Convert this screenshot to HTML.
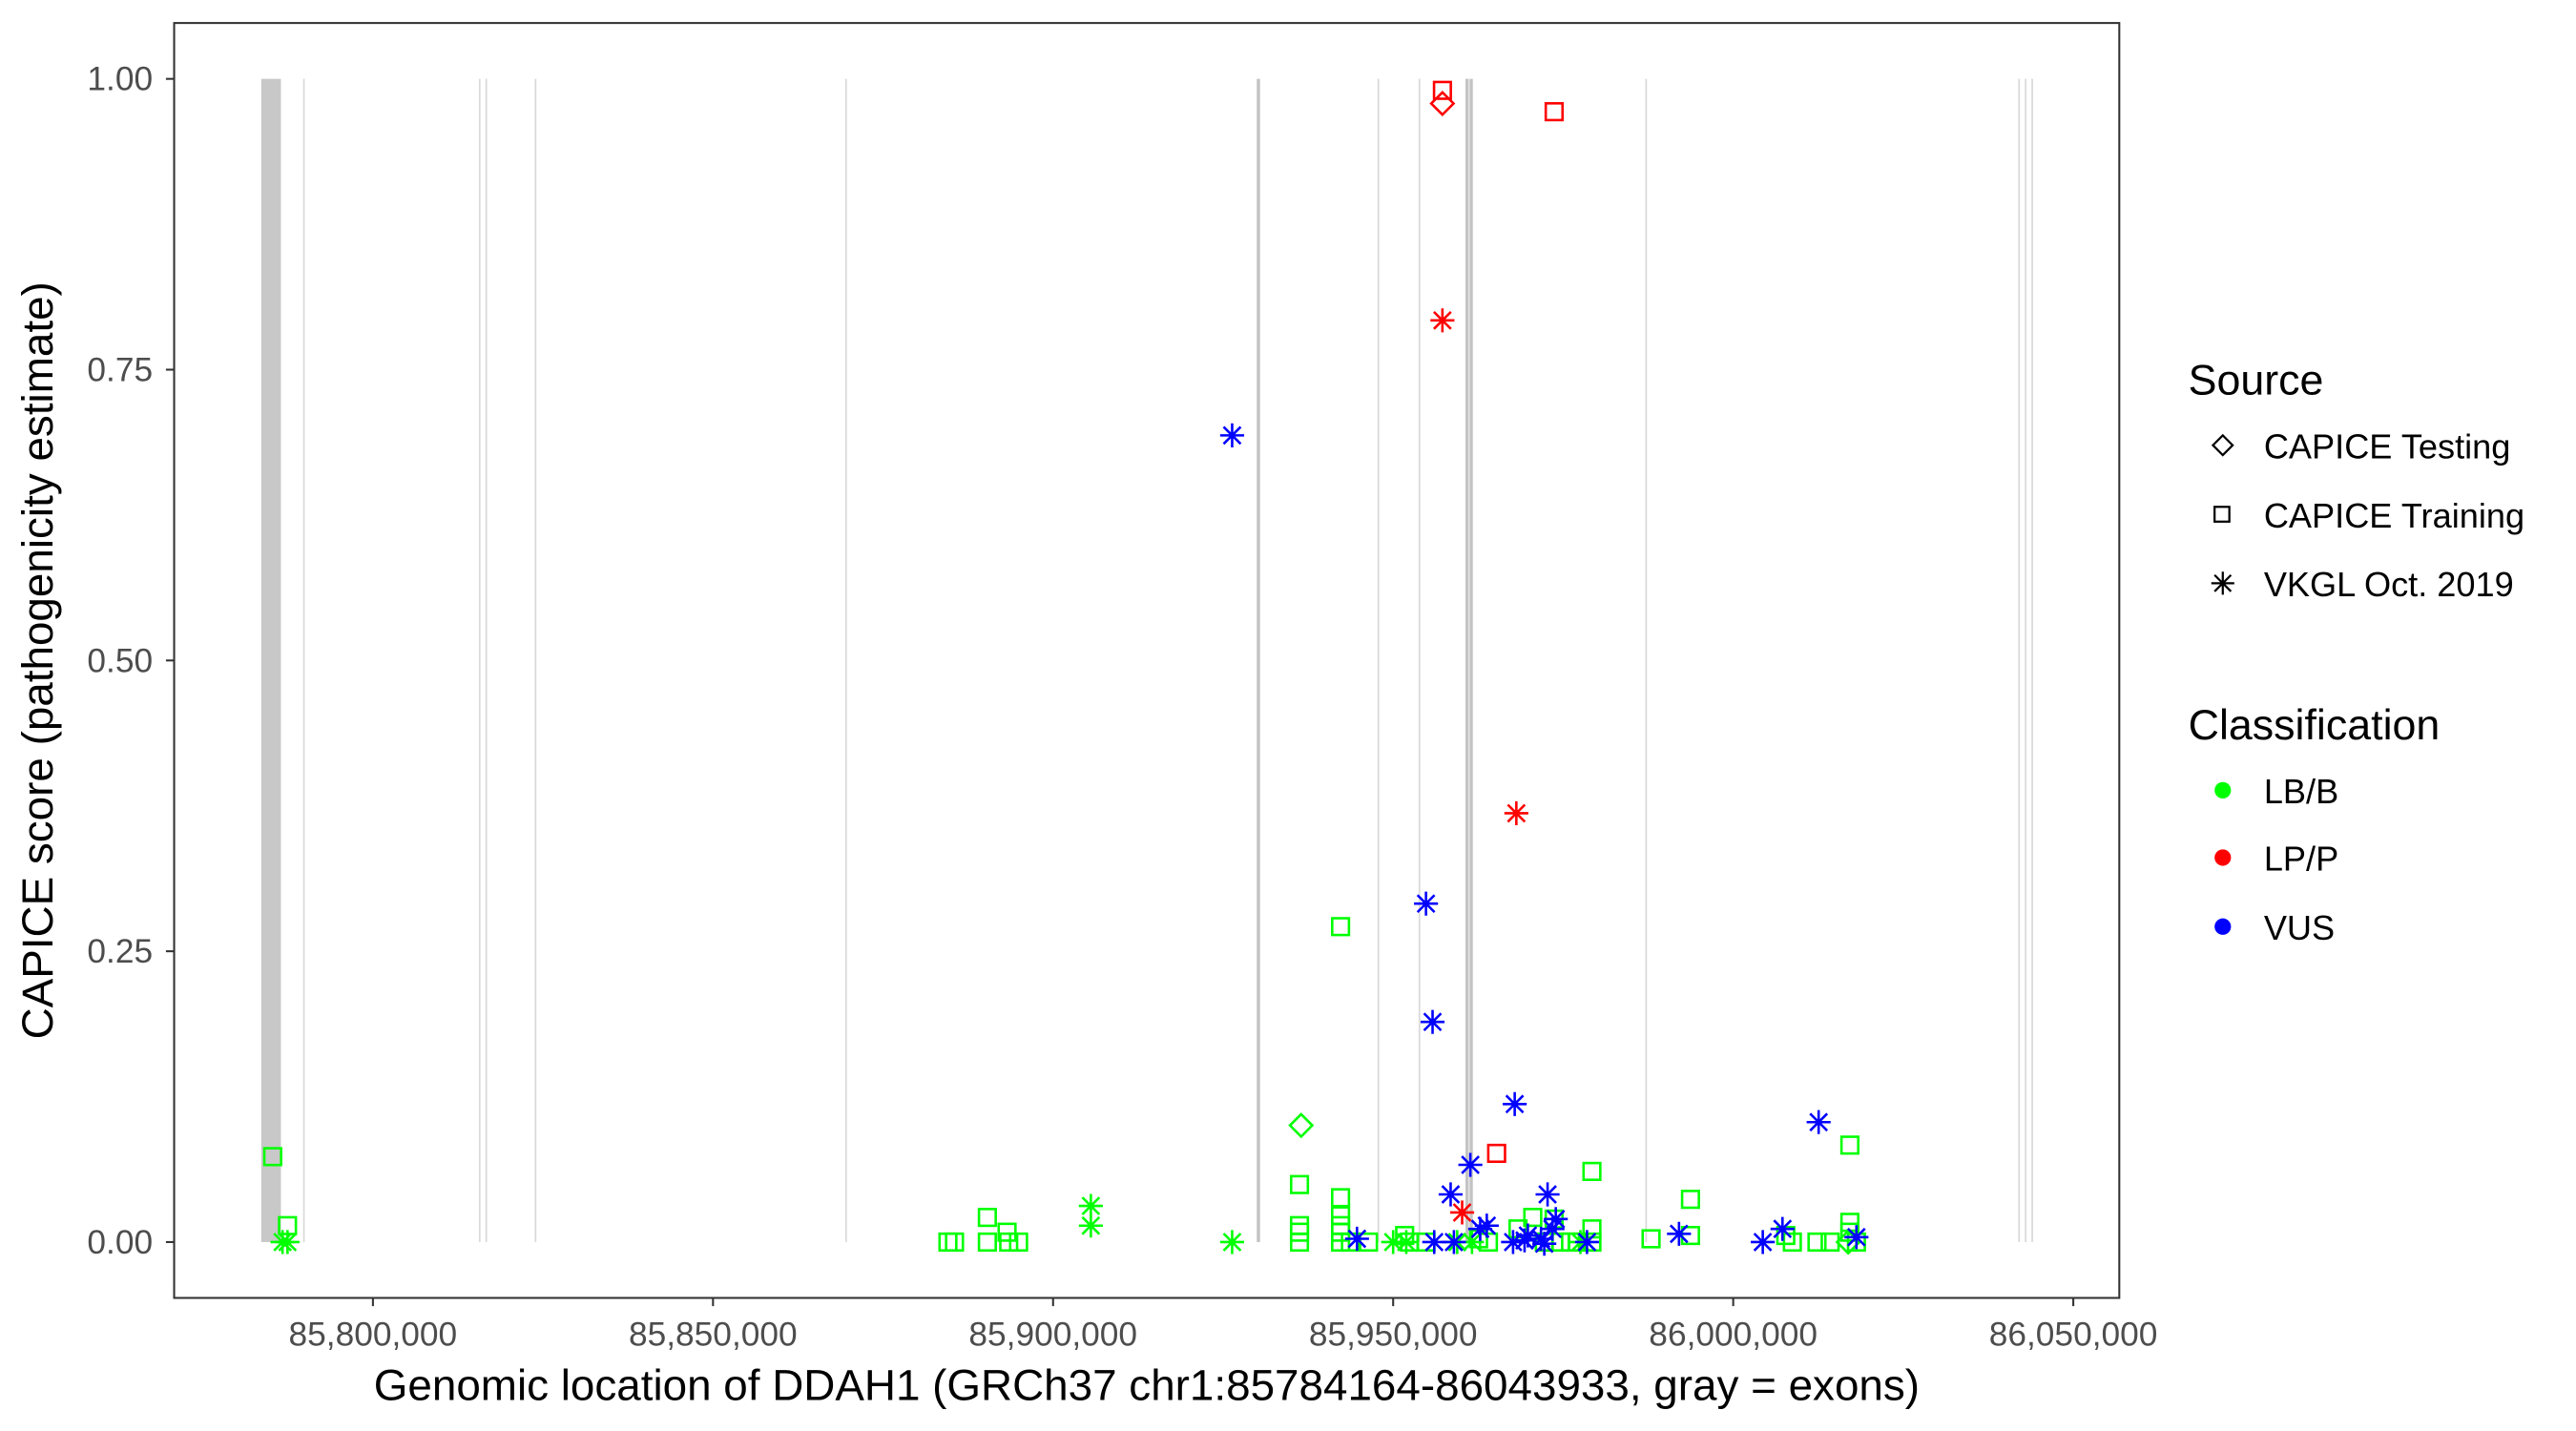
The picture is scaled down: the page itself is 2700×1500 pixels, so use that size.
<!DOCTYPE html>
<html><head><meta charset="utf-8"><style>html,body{margin:0;padding:0;background:#fff}svg{display:block}</style></head>
<body>
<svg width="2700" height="1500" viewBox="0 0 1568 871" preserveAspectRatio="none" xmlns="http://www.w3.org/2000/svg" font-family="Liberation Sans, Arial, sans-serif">
<defs>
<rect id="sq" x="-5.1" y="-5.1" width="10.2" height="10.2" fill="none" stroke-width="1.5"/>
<path id="dm" d="M0,-6.8 L6.8,0 L0,6.8 L-6.8,0 Z" fill="none" stroke-width="1.5"/>
<path id="st" d="M0,-7.3 V7.3 M-7.3,0 H7.3 M-5.2,-5.2 L5.2,5.2 M-5.2,5.2 L5.2,-5.2" fill="none" stroke-width="1.5"/>
</defs>
<rect x="0" y="0" width="1568" height="871" fill="#fff"/>
<rect x="159" y="48" width="12" height="708" fill="#c8c8c8"/>
<g stroke="#d9d9d9" stroke-width="1">
<line x1="185" y1="48" x2="185" y2="756"/><line x1="292" y1="48" x2="292" y2="756"/><line x1="296" y1="48" x2="296" y2="756"/>
<line x1="326" y1="48" x2="326" y2="756"/><line x1="515" y1="48" x2="515" y2="756"/><line x1="839" y1="48" x2="839" y2="756"/>
<line x1="864" y1="48" x2="864" y2="756"/><line x1="1002" y1="48" x2="1002" y2="756"/><line x1="1229" y1="48" x2="1229" y2="756"/>
<line x1="1233" y1="48" x2="1233" y2="756"/><line x1="1237" y1="48" x2="1237" y2="756"/>
</g>
<g stroke="#c4c4c4" stroke-width="2"><line x1="766" y1="48" x2="766" y2="756"/><line x1="893" y1="48" x2="893" y2="756"/><line x1="895.5" y1="48" x2="895.5" y2="756"/></g>
<g stroke="#00ff00">
<use href="#sq" x="166" y="704"/><use href="#sq" x="175" y="746"/><use href="#sq" x="577" y="756"/><use href="#sq" x="581" y="756"/>
<use href="#sq" x="601" y="741"/><use href="#sq" x="601" y="756"/><use href="#sq" x="613" y="750"/><use href="#sq" x="614" y="756"/><use href="#sq" x="620" y="756"/>
<use href="#sq" x="791" y="721"/><use href="#sq" x="791" y="746"/><use href="#sq" x="791" y="750"/><use href="#sq" x="791" y="756"/>
<use href="#sq" x="816" y="564"/><use href="#sq" x="816" y="729"/><use href="#sq" x="816" y="740"/><use href="#sq" x="816" y="746"/><use href="#sq" x="816" y="750"/><use href="#sq" x="816" y="756"/>
<use href="#sq" x="822" y="756"/><use href="#sq" x="833" y="756"/><use href="#sq" x="855" y="752"/><use href="#sq" x="858" y="756"/><use href="#sq" x="868" y="756"/>
<use href="#sq" x="900" y="754"/><use href="#sq" x="906" y="756"/><use href="#sq" x="924" y="748"/><use href="#sq" x="933" y="741"/><use href="#sq" x="946" y="742"/>
<use href="#sq" x="940" y="756"/><use href="#sq" x="950" y="756"/><use href="#sq" x="956" y="756"/><use href="#sq" x="960" y="756"/>
<use href="#sq" x="969" y="713"/><use href="#sq" x="969" y="748"/><use href="#sq" x="969" y="756"/><use href="#sq" x="1005" y="754"/>
<use href="#sq" x="1029" y="730"/><use href="#sq" x="1029" y="752"/><use href="#sq" x="1087" y="752"/><use href="#sq" x="1091" y="756"/>
<use href="#sq" x="1106" y="756"/><use href="#sq" x="1114" y="756"/><use href="#sq" x="1126" y="697"/><use href="#sq" x="1126" y="744"/><use href="#sq" x="1126" y="750"/><use href="#sq" x="1130" y="756"/>
<use href="#dm" x="792" y="685"/><use href="#dm" x="1125" y="756"/>
<use href="#st" x="664" y="734"/><use href="#st" x="664" y="746"/><use href="#st" x="750" y="756"/><use href="#st" x="175" y="756"/><use href="#st" x="172" y="756"/>
<use href="#st" x="848" y="756"/><use href="#st" x="856" y="756"/><use href="#st" x="896" y="756"/><use href="#st" x="962" y="756"/><use href="#st" x="887" y="756"/>
</g>
<g stroke="#ff0000">
<use href="#sq" x="878" y="55"/><use href="#dm" x="878" y="63"/><use href="#sq" x="946" y="68"/>
<use href="#st" x="878" y="195"/><use href="#st" x="923" y="495"/><use href="#sq" x="911" y="702"/><use href="#st" x="890" y="738"/>
</g>
<g stroke="#0000ff">
<use href="#st" x="750" y="265"/><use href="#st" x="868" y="550"/><use href="#st" x="872" y="622"/><use href="#st" x="922" y="672"/>
<use href="#st" x="1107" y="683"/><use href="#st" x="895" y="709"/><use href="#st" x="883" y="727"/><use href="#st" x="942" y="727"/>
<use href="#st" x="905" y="746"/><use href="#st" x="901" y="748"/><use href="#st" x="826" y="754"/><use href="#st" x="873" y="756"/>
<use href="#st" x="885" y="756"/><use href="#st" x="921" y="756"/><use href="#st" x="930" y="752"/><use href="#st" x="938" y="754"/>
<use href="#st" x="945" y="748"/><use href="#st" x="947" y="742"/><use href="#st" x="966" y="756"/><use href="#st" x="1022" y="751"/>
<use href="#st" x="1085" y="748"/><use href="#st" x="1073" y="756"/><use href="#st" x="1130" y="753"/><use href="#st" x="928" y="755"/><use href="#st" x="940" y="757"/>
</g>
<rect x="106" y="14" width="1184" height="776" fill="none" stroke="#333" stroke-width="1.2"/>
<g stroke="#333" stroke-width="1.2">
<line x1="101" y1="48" x2="106" y2="48"/><line x1="101" y1="225" x2="106" y2="225"/><line x1="101" y1="402" x2="106" y2="402"/><line x1="101" y1="579" x2="106" y2="579"/><line x1="101" y1="756" x2="106" y2="756"/>
<line x1="227" y1="790" x2="227" y2="795"/><line x1="434" y1="790" x2="434" y2="795"/><line x1="641" y1="790" x2="641" y2="795"/><line x1="848" y1="790" x2="848" y2="795"/><line x1="1055" y1="790" x2="1055" y2="795"/><line x1="1262" y1="790" x2="1262" y2="795"/>
</g>
<g fill="#4d4d4d" font-size="20.5" text-anchor="end">
<text x="93" y="55">1.00</text><text x="93" y="232">0.75</text><text x="93" y="409">0.50</text><text x="93" y="586">0.25</text><text x="93" y="763">0.00</text>
</g>
<g fill="#4d4d4d" font-size="20.5" text-anchor="middle">
<text x="227" y="819">85,800,000</text><text x="434" y="819">85,850,000</text><text x="641" y="819">85,900,000</text><text x="848" y="819">85,950,000</text><text x="1055" y="819">86,000,000</text><text x="1262" y="819">86,050,000</text>
</g>
<text x="698" y="852" font-size="26.6" text-anchor="middle" fill="#000">Genomic location of DDAH1 (GRCh37 chr1:85784164-86043933, gray = exons)</text>
<text transform="translate(32,402) rotate(-90)" font-size="26.6" text-anchor="middle" fill="#000">CAPICE score (pathogenicity estimate)</text>
<text x="1332" y="240" font-size="26">Source</text>
<g stroke="#000" fill="none" stroke-width="1.3">
<path d="M1353,265 L1359,271 L1353,277 L1347,271 Z"/>
<rect x="1348" y="308.5" width="9" height="9"/>
<path d="M1353,348 V362 M1346,355 H1360 M1348,350 L1358,360 M1348,360 L1358,350"/>
</g>
<g font-size="21" fill="#000">
<text x="1378" y="279">CAPICE Testing</text><text x="1378" y="321">CAPICE Training</text><text x="1378" y="363">VKGL Oct. 2019</text>
</g>
<text x="1332" y="450" font-size="26">Classification</text>
<circle cx="1353" cy="481" r="5" fill="#00ff00"/><circle cx="1353" cy="522" r="5" fill="#ff0000"/><circle cx="1353" cy="564" r="5" fill="#0000ff"/>
<g font-size="21" fill="#000">
<text x="1378" y="489">LB/B</text><text x="1378" y="530">LP/P</text><text x="1378" y="572">VUS</text>
</g>
</svg>
</body></html>
